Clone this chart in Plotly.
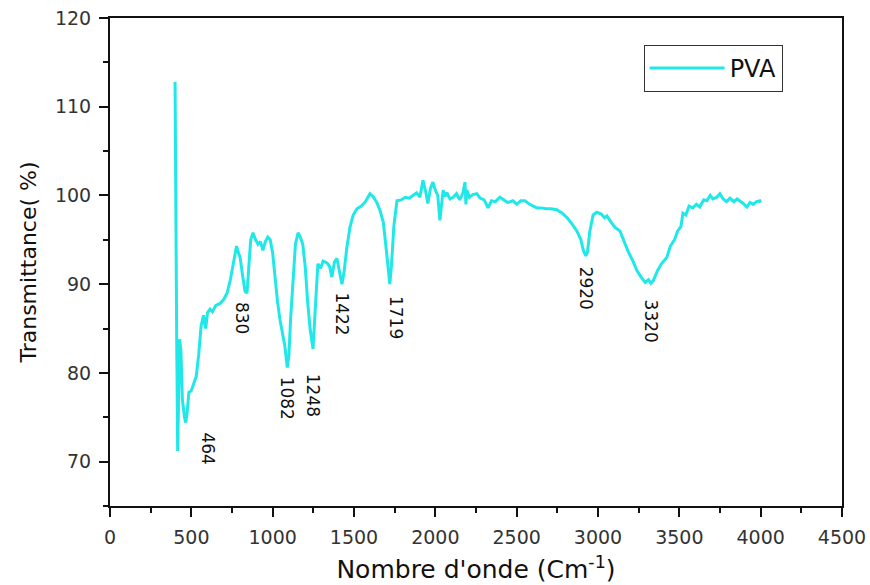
import plotly.graph_objects as go

wavenumber = [400, 405, 410, 416, 422, 428, 436, 445, 458, 466, 474, 485, 500, 515, 530, 545, 560, 575, 588, 600,
              615, 630, 650, 675, 700, 720, 740, 760, 778, 790, 800, 815, 830, 842, 852, 865, 879, 895, 910, 925,
              940, 955, 970, 985, 1000, 1015, 1030, 1045, 1060, 1075, 1090, 1100, 1110, 1125, 1140, 1156, 1170, 1185, 1200, 1215,
              1230, 1248, 1262, 1278, 1295, 1310, 1334, 1350, 1364, 1380, 1395, 1410, 1426, 1440, 1455, 1475, 1495, 1518, 1545, 1570,
              1598, 1620, 1640, 1660, 1680, 1695, 1710, 1720, 1730, 1745, 1764, 1790, 1815, 1840, 1862, 1885, 1905, 1924, 1940, 1954,
              1970, 1985, 2000, 2015, 2028, 2040, 2048, 2060, 2071, 2090, 2110, 2130, 2150, 2170, 2182, 2188, 2194, 2210, 2230, 2255,
              2275, 2300, 2324, 2345, 2370, 2397, 2420, 2445, 2477, 2500, 2525, 2551, 2580, 2600, 2624, 2650, 2680, 2710, 2747, 2780,
              2809, 2840, 2870, 2895, 2910, 2925, 2935, 2950, 2970, 2993, 3020, 3040, 3055, 3080, 3105, 3135, 3160, 3185, 3215, 3240,
              3265, 3290, 3310, 3325, 3340, 3365, 3390, 3423, 3445, 3470, 3490, 3510, 3522, 3540, 3560, 3583, 3605, 3625, 3650, 3669,
              3690, 3706, 3730, 3749, 3770, 3790, 3811, 3835, 3855, 3872, 3893, 3915, 3935, 3955, 3975, 3995, 4000]
transmittance = [112.8, 87.0, 84.0, 71.2, 78.0, 83.8, 82.5, 77.0, 75.0, 74.4, 75.5, 77.8, 78.0, 78.8, 79.6, 82.0, 85.3, 86.5, 85.0, 86.8,
                 87.2, 86.9, 87.6, 87.8, 88.3, 89.0, 90.5, 92.5, 94.3, 93.5, 93.0, 91.0, 89.2, 89.0, 91.5, 95.0, 95.8, 95.0, 94.5, 94.8,
                 93.8, 94.8, 95.3, 95.0, 93.5, 90.5, 88.0, 86.0, 84.5, 83.0, 80.6, 82.0, 86.0, 91.0, 94.5, 95.8, 95.3, 94.5, 92.0, 88.0,
                 85.0, 82.7, 87.0, 92.3, 91.8, 92.6, 92.4, 92.0, 90.8, 92.5, 92.9, 91.5, 90.0, 91.5, 94.0, 96.4, 97.8, 98.5, 98.8, 99.3,
                 100.2, 99.8, 99.2, 98.3, 97.0, 94.5, 91.5, 90.0, 92.0, 96.5, 99.4, 99.5, 99.8, 99.7, 100.0, 100.3, 99.8, 101.7, 100.5, 99.1,
                 100.8, 101.5, 100.6, 100.0, 97.2, 99.5, 100.6, 99.9, 100.3, 99.6, 99.8, 100.2, 99.5, 100.3, 101.5, 99.0, 100.6, 99.8, 100.1, 100.2,
                 99.7, 99.5, 98.6, 99.4, 99.3, 99.8, 99.5, 99.2, 99.4, 99.0, 99.4, 99.4, 99.0, 98.8, 98.6, 98.6, 98.5, 98.5, 98.4, 98.0,
                 97.5, 96.8, 96.0, 95.0, 93.8, 93.2, 93.6, 96.0, 97.8, 98.1, 97.9, 97.5, 97.7, 97.0, 96.4, 96.0, 94.8, 93.7, 92.6, 91.5,
                 90.8, 90.2, 90.5, 90.1, 90.4, 91.5, 92.3, 93.0, 94.3, 95.0, 96.0, 96.5, 98.0, 97.8, 98.8, 98.6, 99.0, 98.7, 99.5, 99.4,
                 100.0, 99.6, 99.8, 100.2, 99.6, 99.3, 99.7, 99.3, 99.6, 99.4, 99.1, 98.7, 99.2, 99.0, 99.3, 99.4, 99.2]

peak_labels = ["464", "830", "1082", "1248", "1422", "1719", "2920", "3320"]
label_x = [602, 811, 1088, 1250, 1426, 1758, 2926, 3325]
label_y = [71.5, 86.2, 77.1, 77.5, 86.6, 86.2, 89.5, 85.8]

FONT = "DejaVu Sans, Arial, sans-serif"

fig = go.Figure()
fig.add_trace(go.Scatter(x=wavenumber, y=transmittance, mode="lines", name="PVA",
                         line=dict(color="#20E8E8", width=3)))

for t, x, y in zip(peak_labels, label_x, label_y):
    fig.add_annotation(x=x, y=y, text=t, showarrow=False, textangle=90,
                       font=dict(family=FONT, size=17, color="#111"))

axis_common = dict(showline=True, linewidth=2, linecolor="#111", mirror=True,
                   ticks="outside", ticklen=9, tickwidth=2, tickcolor="#111",
                   showgrid=False, zeroline=False, ticklabelstandoff=4, automargin=False,
                   tickfont=dict(family=FONT, size=19, color="#333"))

fig.update_xaxes(range=[0, 4500], dtick=500, tick0=0,
                 minor=dict(dtick=250, ticks="outside", ticklen=5, tickwidth=2, tickcolor="#111"),
                 title=dict(text="Nombre d'onde (Cm<sup>-1</sup>)", font=dict(family=FONT, size=25, color="#111"), standoff=14),
                 **axis_common)
fig.update_yaxes(range=[65, 120], dtick=10, tick0=0,
                 minor=dict(dtick=5, ticks="outside", ticklen=5, tickwidth=2, tickcolor="#111"),
                 title=dict(text="Transmittance( %)", font=dict(family=FONT, size=22, color="#111"), standoff=12),
                 **axis_common)

fig.update_layout(
    width=870, height=585,
    margin=dict(l=110, r=28, t=18, b=79),
    paper_bgcolor="white", plot_bgcolor="white",
    showlegend=True,
    legend=dict(x=0.729, y=0.945, xanchor="left", yanchor="top",
                bordercolor="#333", borderwidth=1, bgcolor="white",
                font=dict(family=FONT, size=24, color="#111"),
                itemwidth=75, tracegroupgap=0),
)

fig.write_html("out.html")
